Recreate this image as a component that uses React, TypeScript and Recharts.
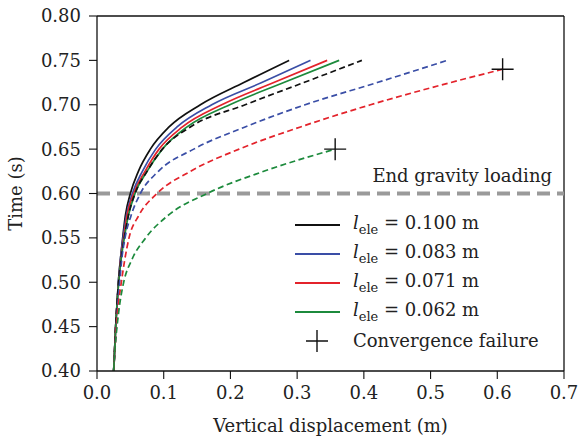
import {
  ComposedChart,
  Legend,
  Line,
  ReferenceLine,
  Scatter,
  XAxis,
  YAxis,
} from 'recharts'

// Time steps (s) shared by the solid runs and most dashed runs.
const timeSteps = [0.4, 0.425, 0.45, 0.475, 0.5, 0.525, 0.55, 0.575, 0.6, 0.625, 0.65, 0.675, 0.7, 0.725, 0.75]
const timeStepsRedDashed = [0.4, 0.425, 0.45, 0.475, 0.5, 0.525, 0.55, 0.575, 0.6, 0.625, 0.65, 0.675, 0.7, 0.725, 0.74]
const timeStepsGreenDashed = [0.4, 0.425, 0.45, 0.475, 0.5, 0.525, 0.55, 0.575, 0.6, 0.625, 0.65]

// Vertical displacement (m), solid runs.
const dispBlack = [0.025, 0.0265, 0.028, 0.03, 0.032, 0.035, 0.0385, 0.0425, 0.05, 0.062, 0.08, 0.108, 0.155, 0.22, 0.288]
const dispBlue = [0.025, 0.0265, 0.028, 0.03, 0.032, 0.035, 0.039, 0.044, 0.053, 0.068, 0.088, 0.12, 0.172, 0.247, 0.32]
const dispRed = [0.025, 0.0265, 0.028, 0.03, 0.0325, 0.0355, 0.04, 0.045, 0.055, 0.072, 0.093, 0.128, 0.187, 0.265, 0.345]
const dispGreen = [0.025, 0.0265, 0.028, 0.03, 0.0325, 0.036, 0.041, 0.047, 0.057, 0.075, 0.098, 0.135, 0.199, 0.28, 0.363]

// Vertical displacement (m), dashed runs.
const dispBlackDashed = [0.025, 0.0265, 0.028, 0.03, 0.0325, 0.036, 0.041, 0.047, 0.057, 0.075, 0.098, 0.14, 0.222, 0.31, 0.397]
const dispBlueDashed = [0.025, 0.027, 0.029, 0.031, 0.034, 0.037, 0.042, 0.051, 0.065, 0.092, 0.145, 0.222, 0.312, 0.42, 0.525]
const dispRedDashed = [0.025, 0.027, 0.029, 0.032, 0.0365, 0.0415, 0.048, 0.0625, 0.09, 0.14, 0.213, 0.305, 0.41, 0.53, 0.608]
const dispGreenDashed = [0.025, 0.027, 0.03, 0.034, 0.04, 0.052, 0.073, 0.106, 0.165, 0.25, 0.357]

// Convergence failures.
const failureDisp = [0.608, 0.357]
const failureTime = [0.74, 0.65]

const xTicks = [0, 0.1, 0.2, 0.3, 0.4, 0.5, 0.6, 0.7]
const yTicks = [0.4, 0.45, 0.5, 0.55, 0.6, 0.65, 0.7, 0.75, 0.8]

const legendLabels = ['0.100', '0.083', '0.071', '0.062']

const BLACK = '#111111'
const BLUE = '#3a4ea6'
const RED = '#e3232b'
const GREEN = '#1c8a3c'
const FONT = '"DejaVu Serif", serif'
const FONT_SIZE = 18

function toPoints(times: number[], disp: number[]) {
  return times.map((t, i) => ({ x: disp[i], y: t }))
}

const series = [
  { key: 'black', color: BLACK, dashed: false, data: toPoints(timeSteps, dispBlack) },
  { key: 'blue', color: BLUE, dashed: false, data: toPoints(timeSteps, dispBlue) },
  { key: 'red', color: RED, dashed: false, data: toPoints(timeSteps, dispRed) },
  { key: 'green', color: GREEN, dashed: false, data: toPoints(timeSteps, dispGreen) },
  { key: 'blackD', color: BLACK, dashed: true, data: toPoints(timeSteps, dispBlackDashed) },
  { key: 'blueD', color: BLUE, dashed: true, data: toPoints(timeSteps, dispBlueDashed) },
  { key: 'redD', color: RED, dashed: true, data: toPoints(timeStepsRedDashed, dispRedDashed) },
  { key: 'greenD', color: GREEN, dashed: true, data: toPoints(timeStepsGreenDashed, dispGreenDashed) },
]

const failures = toPoints(failureTime, failureDisp)

// Plus-shaped marker.
function Cross(props: any) {
  const { cx, cy } = props
  const s = 11
  return (
    <path
      d={`M${cx - s},${cy}L${cx + s},${cy}M${cx},${cy - s}L${cx},${cy + s}`}
      stroke={BLACK}
      strokeWidth={1.4}
      fill="none"
    />
  )
}

function LegendBox() {
  const row = { display: 'flex', alignItems: 'center', height: 29 }
  return (
    <div style={{ fontFamily: FONT, fontSize: FONT_SIZE, color: '#222', textAlign: 'left' }}>
      {[BLACK, BLUE, RED, GREEN].map((c, i) => (
        <div key={c} style={row}>
          <div style={{ width: 45, height: 2, background: c, marginRight: 13 }} />
          <span>
            <i>l</i>
            <sub style={{ fontSize: 13 }}>ele</sub> = {legendLabels[i]} m
          </span>
        </div>
      ))}
      <div style={row}>
        <svg width={45} height={24} style={{ marginRight: 13 }}>
          <path d="M11,12L33,12M22,1L22,23" stroke={BLACK} strokeWidth={1.4} />
        </svg>
        <span>Convergence failure</span>
      </div>
    </div>
  )
}

export default function App() {
  const textStyle = { fontFamily: FONT, fontSize: FONT_SIZE, fill: '#222' }
  return (
    <div style={{ position: 'absolute', left: 0, top: 0, background: '#fff' }}>
      <ComposedChart width={581} height={441} margin={{ top: 16, right: 17, bottom: 0, left: 0 }}>
        <XAxis
          dataKey="x"
          type="number"
          domain={[0, 0.7]}
          ticks={xTicks}
          tickFormatter={(v: number) => v.toFixed(1)}
          height={70}
          tickSize={8}
          tickMargin={7}
          allowDuplicatedCategory={false}
          axisLine={{ stroke: BLACK, strokeWidth: 1.3 }}
          tickLine={{ stroke: BLACK, strokeWidth: 1.1 }}
          tick={textStyle}
          label={{
            value: 'Vertical displacement (m)',
            position: 'insideBottom',
            offset: 9,
            style: textStyle,
          }}
        />
        <YAxis
          dataKey="y"
          type="number"
          domain={[0.4, 0.8]}
          ticks={yTicks}
          tickFormatter={(v: number) => v.toFixed(2)}
          width={97}
          tickSize={8}
          tickMargin={8}
          axisLine={{ stroke: BLACK, strokeWidth: 1.3 }}
          tickLine={{ stroke: BLACK, strokeWidth: 1.1 }}
          tick={textStyle}
          label={{
            value: 'Time (s)',
            angle: -90,
            position: 'insideLeft',
            offset: 16,
            style: { ...textStyle, textAnchor: 'middle' },
          }}
        />
        <ReferenceLine y={0.8} stroke={BLACK} strokeWidth={1.3} />
        <ReferenceLine x={0.7} stroke={BLACK} strokeWidth={1.3} />
        <ReferenceLine
          y={0.6}
          stroke="#9a9a9a"
          strokeWidth={4}
          strokeDasharray="13 7"
          label={{
            value: 'End gravity loading',
            position: 'insideBottomRight',
            offset: 12,
            style: textStyle,
          }}
        />
        {series.map((s) => (
          <Line
            key={s.key}
            data={s.data}
            dataKey="y"
            type="monotoneX"
            stroke={s.color}
            strokeWidth={1.7}
            strokeDasharray={s.dashed ? '6 3.5' : undefined}
            dot={false}
            isAnimationActive={false}
          />
        ))}
        <Scatter data={failures} dataKey="y" shape={<Cross />} isAnimationActive={false} />
        <Legend
          layout="horizontal"
          verticalAlign="middle"
          align="center"
          content={() => <LegendBox />}
          wrapperStyle={{ left: 295, top: 210, width: 270 }}
        />
      </ComposedChart>
    </div>
  )
}
